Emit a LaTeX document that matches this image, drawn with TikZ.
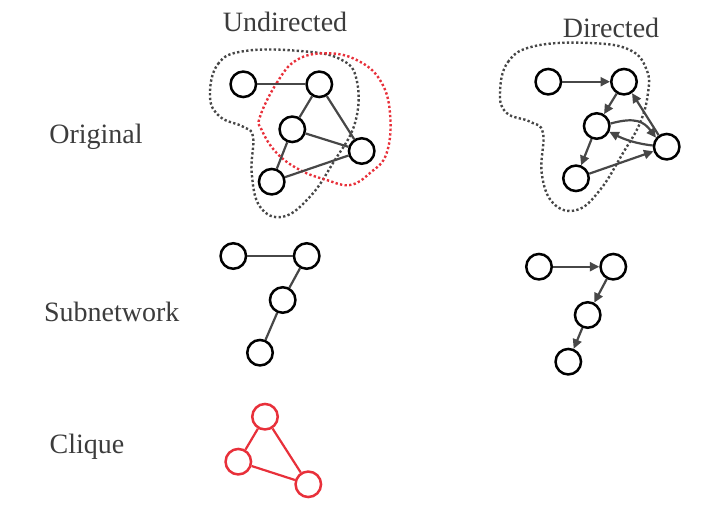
\documentclass[tikz,border=0pt]{standalone}
\usepackage{fontspec}
\setmainfont{Liberation Serif}
\usetikzlibrary{arrows.meta}
\definecolor{edgegray}{HTML}{474747}
\definecolor{textgray}{HTML}{3C3C3C}
\definecolor{cred}{HTML}{E8303A}
\begin{document}
\begin{tikzpicture}[x=1pt,y=-1pt,
  vert/.style={circle,draw=black,line width=2.5pt,minimum size=25.5pt,inner sep=0pt,fill=white},
  rvert/.style={vert,draw=cred},
  edge/.style={draw=edgegray,line width=2.2pt},
  redge/.style={draw=cred,line width=2.2pt},
  arr/.style={edge,-{Triangle[length=9.5pt,width=9pt]}},
  blob/.style={line width=2.4pt,dash pattern=on 2.3pt off 2.3pt},
  lab/.style={font=\fontsize{28}{32}\selectfont,text=textgray,anchor=base,inner sep=0pt}]
\useasboundingbox (0,0) rectangle (705,512);

% labels
\node[lab] (tU) at (285,31.7) {Undirected};
\node[lab] (tD) at (611,37) {Directed};
\node[lab] (tO) at (96,143) {Original};
\node[lab] (tS) at (111.7,321.7) {Subnetwork};
\node[lab] (tC) at (87,453) {Clique};

% undirected blobs
\draw[blob,draw=edgegray] plot[smooth cycle,tension=0.7] coordinates {
 (210,96.7) (218,64) (245,51) (300,51) (340,59) (356.7,80) (355,123)
 (333,163) (310,196.7) (283,216.7) (260,206.7) (251.7,173) (253,136.7)
 (243,126.7) (220,116.7)};
\draw[blob,draw=cred] plot[smooth cycle,tension=0.7] coordinates {
 (260,116.7) (276.7,83) (296.7,60) (326.7,53.3) (356.7,60) (380,80)
 (390,113) (386.7,153) (370,173) (350,185) (326.7,180) (300,170)
 (276.7,153) (261.7,130)};

% undirected original
\node[vert] (uA) at (243.3,84.3) {};
\node[vert] (uB) at (319.3,84.3) {};
\node[vert] (uC) at (292.3,129.3) {};
\node[vert] (uD) at (361.7,151) {};
\node[vert] (uE) at (271.7,181.7) {};
\draw[edge] (uA) -- (uB);
\draw[edge] (uB) -- (uC);
\draw[edge] (uB) -- (uD);
\draw[edge] (uC) -- (uD);
\draw[edge] (uC) -- (uE);
\draw[edge] (uE) -- (uD);

% directed blob
\draw[blob,draw=edgegray] plot[smooth cycle,tension=0.7] coordinates {
 (500,93.3) (508,62) (535,46) (590,43) (630,50) (646.7,70) (648,93)
 (640,123) (623,153) (600,190) (576.7,210) (553,203) (541.7,173)
 (543,133) (530,121.7) (506.7,113)};

% directed original
\node[vert] (dA) at (548.3,81.7) {};
\node[vert] (dB) at (624,81.7) {};
\node[vert] (dC) at (596.7,126) {};
\node[vert] (dD) at (666.7,146.7) {};
\node[vert] (dE) at (576,178.3) {};
\draw[arr] (dA) -- (dB);
\draw[arr] (dB) -- (dC);
\draw[arr] (dC) -- (dE);
\draw[arr] (dE) -- (dD);
\draw[arr] (dD.125) -- (dB.-55);
\draw[arr] (dC.10) .. controls +(25,-7) and +(-12,-16) .. (dD.140);
\draw[arr] (dD.175) .. controls +(-18,-2) and +(14,7) .. (dC.-25);

% undirected subnetwork
\node[vert] (sA) at (233.3,256) {};
\node[vert] (sB) at (306.7,256) {};
\node[vert] (sC) at (282.7,300) {};
\node[vert] (sD) at (260,352.7) {};
\draw[edge] (sA) -- (sB);
\draw[edge] (sB) -- (sC);
\draw[edge] (sC) -- (sD);

% directed subnetwork
\node[vert] (tA) at (539,266.7) {};
\node[vert] (tB) at (613.3,266.7) {};
\node[vert] (tCc) at (587.7,315) {};
\node[vert] (tDd) at (568.3,361.7) {};
\draw[arr] (tA) -- (tB);
\draw[arr] (tB) -- (tCc);
\draw[arr] (tCc) -- (tDd);

% clique
\node[rvert] (cA) at (265,416.7) {};
\node[rvert] (cB) at (238.3,461.7) {};
\node[rvert] (cC) at (308.3,484.3) {};
\draw[redge] (cA) -- (cB);
\draw[redge] (cA) -- (cC);
\draw[redge] (cB) -- (cC);
\end{tikzpicture}
\end{document}
